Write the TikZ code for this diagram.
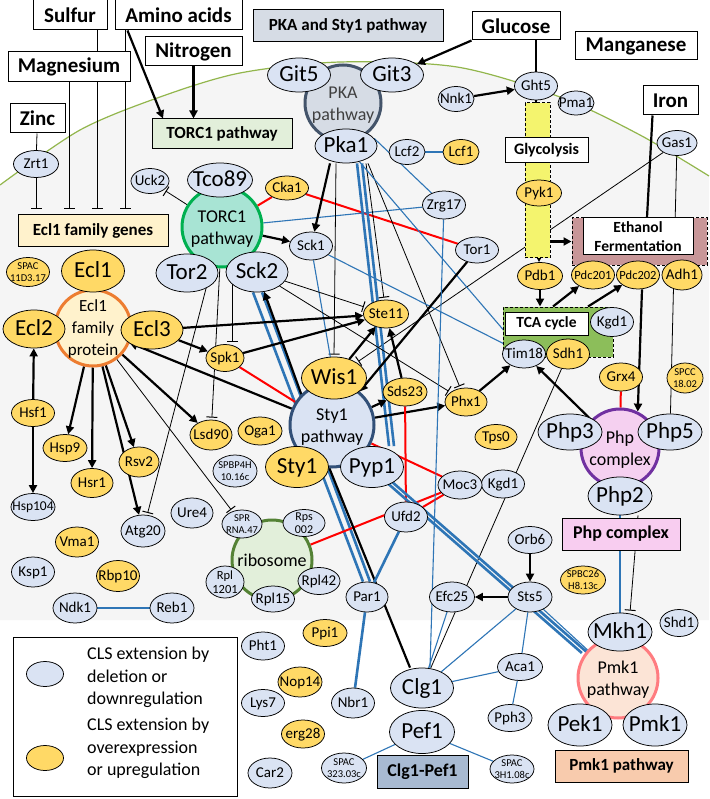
\documentclass[tikz,border=0pt]{standalone}
\usepackage{fontspec}
\setmainfont{Carlito}
\usetikzlibrary{shapes.geometric,arrows.meta,calc}
\pgfdeclarelayer{bgl}\pgfdeclarelayer{edl}
\pgfsetlayers{bgl,edl,main}
\definecolor{nblue}{RGB}{218,227,243}
\definecolor{nyel}{RGB}{255,217,102}
\definecolor{lblue}{RGB}{46,117,182}
\definecolor{lred}{RGB}{255,0,0}
\definecolor{cellbg}{RGB}{245,245,245}
\definecolor{memb}{RGB}{146,182,76}
\definecolor{pkafill}{RGB}{214,220,229}
\definecolor{pkab}{RGB}{68,84,106}
\definecolor{torcfill}{RGB}{168,228,212}
\definecolor{torcb}{RGB}{0,176,80}
\definecolor{torcbox}{RGB}{226,239,218}
\definecolor{eclfill}{RGB}{255,242,204}
\definecolor{eclb}{RGB}{237,125,49}
\definecolor{spb}{RGB}{50,80,120}
\definecolor{ribofill}{RGB}{226,239,218}
\definecolor{ribob}{RGB}{84,130,53}
\definecolor{phpfill}{RGB}{245,208,240}
\definecolor{phpb}{RGB}{112,48,160}
\definecolor{phpbox}{RGB}{248,205,240}
\definecolor{pmkfill}{RGB}{252,228,214}
\definecolor{pmkb}{RGB}{255,124,128}
\definecolor{pmkbox}{RGB}{248,203,173}
\definecolor{clgbox}{RGB}{168,186,210}
\definecolor{glyc}{RGB}{244,244,110}
\definecolor{ethfill}{RGB}{200,150,152}
\definecolor{tcafill}{RGB}{140,190,90}
\newcommand\fbig{\fontsize{23}{26}\selectfont}
\newcommand\fsm{\fontsize{15}{17}\selectfont}
\newcommand\fpdc{\fontsize{12.5}{14}\selectfont}
\newcommand\ftn{\fontsize{10.5}{12.5}\selectfont}
\newcommand\fbx{\bfseries\fontsize{21}{24}\selectfont}
\newcommand\flb{\bfseries\fontsize{17}{20}\selectfont}
\newcommand\fcir{\fontsize{18}{22}\selectfont}
\newcommand\fleg{\fontsize{18}{22.5}\selectfont}
\newcommand\NT[1]{\makebox[0pt]{\raisebox{-0.34em}[0pt][0pt]{\begin{tabular}{@{}c@{}}#1\end{tabular}}}}
\tikzset{
 nb/.style 2 args={ellipse, draw=black, line width=0.75pt, fill=nblue, inner sep=0pt, minimum width=#1pt, minimum height=#2pt, font=\fsm},
 ny/.style 2 args={ellipse, draw=black, line width=0.75pt, fill=nyel, inner sep=0pt, minimum width=#1pt, minimum height=#2pt, font=\fsm},
 bx/.style 2 args={rectangle, draw=black, line width=1pt, fill=white, inner sep=0pt, minimum width=#1pt, minimum height=#2pt, font=\fbx},
 lb/.style 2 args={rectangle, draw=black, line width=1pt, inner sep=0pt, minimum width=#1pt, minimum height=#2pt, font=\flb},
 pc/.style n args={3}{circle, draw=#2, fill=#3, line width=3pt, inner sep=0pt, minimum size=#1pt, font=\fcir},
 dsh/.style={draw=black, line width=1pt, dash pattern=on 3pt off 2pt, inner sep=0pt},
 act/.style={line width=2.2pt, -{Triangle[length=8pt,width=8pt]}},
 inh/.style={line width=0.8pt, -{Bar[width=11pt,line width=1pt]}, shorten >=2pt},
 thn/.style={line width=0.8pt},
 thk/.style={line width=2.2pt},
 bl/.style={line width=1.1pt, draw=lblue},
 blt/.style={line width=2.6pt, draw=lblue},
 rd/.style={line width=2pt, draw=lred},
}
\begin{document}
\begin{tikzpicture}[x=1pt,y=-1pt]
\useasboundingbox (0,0) rectangle (709,799);
\begin{pgfonlayer}{bgl}
\fill[white] (0,0) rectangle (709,799);
\fill[cellbg] plot[smooth] coordinates {(0,185) (80,130) (160,97) (240,73) (340,62) (457,67) (560,97) (640,135) (709,176)} -- (709,620) -- (0,620) -- cycle;
\draw[memb, line width=1.2pt] plot[smooth] coordinates {(0,185) (80,130) (160,97) (240,73) (340,62) (457,67) (560,97) (640,135) (709,176)};
\end{pgfonlayer}

% ---- pathway circles
\node[pc={76}{pkab}{pkafill}, text=black!75] (PKA) at (343,103) {\NT{PKA\\pathway}};
\node[pc={80}{torcb}{torcfill}] (TORC1) at (222,227) {\NT{TORC1\\pathway}};
\node[pc={76}{eclb}{eclfill}, font=\fontsize{17}{22}\selectfont] (EFP) at (93,328) {\NT{Ecl1\\family\\protein}};
\node[pc={84}{spb}{nblue}] (SP) at (332,425) {\NT{Sty1\\pathway}};
\node[pc={80}{ribob}{ribofill}] (Ribo) at (272,560) {\NT{ribosome}};
\node[pc={78}{phpb}{phpfill}] (Phpc) at (620,448) {\NT{Php\\complex}};
\node[pc={80}{pmkb}{pmkfill}] (Pmkc) at (618,678) {\NT{Pmk1\\pathway}};

% ---- glycolysis band, ethanol, TCA
\node[dsh, fill=glyc, minimum width=25pt, minimum height=155pt] (band) at (537.5,180.5) {};
\node[dsh, fill=ethfill, minimum width=135pt, minimum height=47pt] (Eth) at (639.5,241.5) {};
\node[rectangle, draw=black, line width=1pt, fill=white, inner sep=0pt, minimum width=110pt, minimum height=37pt, align=center, font=\bfseries\fontsize{15.5}{19}\selectfont] (EthT) at (638,236.5) {Ethanol\\Fermentation};
\node[dsh, fill=tcafill, minimum width=110pt, minimum height=50pt] (TCA) at (558,332) {};
\node[rectangle, draw=black, line width=1pt, fill=white, inner sep=0pt, minimum width=83pt, minimum height=23pt, font=\bfseries\fontsize{15.5}{18}\selectfont] (TCAT) at (546.5,323.5) {TCA cycle};
\node[rectangle, draw=black, line width=1pt, fill=white, inner sep=0pt, minimum width=83pt, minimum height=25pt, font=\bfseries\fontsize{16}{18}\selectfont] (Glyc) at (546.5,150.5) {Glycolysis};

% ---- boxes
\node[bx={74}{30}] (Sulfur) at (70,15) {Sulfur};
\node[bx={127}{30}] (Amino) at (178.5,15) {Amino acids};
\node[bx={122}{30}] (Mg) at (69,67) {Magnesium};
\node[bx={97}{29}] (Nitro) at (193.5,51.5) {Nitrogen};
\node[bx={55}{29}] (Zinc) at (37.5,118.5) {Zinc};
\node[bx={88}{28}] (Glucose) at (516,26) {Glucose};
\node[bx={122}{28}] (Mn) at (636,46) {Manganese};
\node[bx={55}{29}] (Iron) at (670.5,100.5) {Iron};
\node[lb={190}{32}, fill=pkafill] (PKAbox) at (348,26) {PKA and Sty1 pathway};
\node[lb={140}{30}, fill=torcbox] (TORbox) at (222,134) {TORC1 pathway};
\node[lb={150}{32}, fill=eclfill] (Eclg) at (93,231) {Ecl1 family genes};
\node[lb={118}{32}, fill=phpbox, font=\bfseries\fontsize{18}{20}\selectfont] (Phpbox) at (621,534) {Php complex};
\node[lb={133}{32}, fill=pmkbox] (Pmkbox) at (621.5,766) {Pmk1 pathway};
\node[lb={91}{33}, fill=clgbox, font=\bfseries\fontsize{18}{20}\selectfont] (Clgbox) at (422.5,771.5) {Clg1-Pef1};

% ---- blue nodes
\node[nb={45}{27}] (Zrt1) at (36,164) {\NT{Zrt1}};
\node[nb={38}{25}] (Uck2) at (150,181) {\NT{Uck2}};
\node[nb={36}{25}] (Nnk1) at (456,99) {\NT{Nnk1}};
\node[nb={43}{28}] (Ght5) at (536,86) {\NT{Ght5}};
\node[nb={36}{24}] (Pma1) at (576,103) {\NT{Pma1}};
\node[nb={36}{25}] (Lcf2) at (407,152) {\NT{Lcf2}};
\node[nb={43}{28}] (Zrg17) at (444,205) {\NT{Zrg17}};
\node[nb={43}{28}] (Sck1) at (311,246) {\NT{Sck1}};
\node[nb={43}{26}] (Tor1) at (477,250) {\NT{Tor1}};
\node[nb={40}{25}] (Gas1) at (677,143) {\NT{Gas1}};
\node[nb={43}{29}] (KgdA) at (612,322) {\NT{Kgd1}};
\node[nb={43}{28}] (Tim18) at (524,354) {\NT{Tim18}};
\node[nb={43}{28}] (KgdB) at (503,484) {\NT{Kgd1}};
\node[nb={44}{28}] (Moc3) at (460,485) {\NT{Moc3}};
\node[nb={43}{30}] (Ufd2) at (406,517) {\NT{Ufd2}};
\node[nb={42}{30}] (Ure4) at (192,513) {\NT{Ure4}};
\node[nb={44}{32}] (Atg20) at (143,531) {\NT{Atg20}};
\node[nb={44}{27}, font=\fontsize{13.5}{15}\selectfont] (Hsp104) at (33,507) {\NT{Hsp104}};
\node[nb={43}{30}] (Ksp1) at (33,572) {\NT{Ksp1}};
\node[nb={44}{30}] (Ndk1) at (75,608) {\NT{Ndk1}};
\node[nb={44}{30}] (Reb1) at (172,608) {\NT{Reb1}};
\node[nb={42}{27}] (Rpl42) at (319,581) {\NT{Rpl42}};
\node[nb={43}{26}] (Rpl15) at (273,599) {\NT{Rpl15}};
\node[nb={42}{30}] (Par1) at (367,597) {\NT{Par1}};
\node[nb={45}{30}] (Efc25) at (452,597) {\NT{Efc25}};
\node[nb={44}{27}] (Orb6) at (530,540) {\NT{Orb6}};
\node[nb={44}{30}] (Sts5) at (530,597) {\NT{Sts5}};
\node[nb={45}{27}] (Aca1) at (520,667) {\NT{Aca1}};
\node[nb={44}{27}] (Pph3) at (510,718) {\NT{Pph3}};
\node[nb={38}{27}] (Shd1) at (679,623) {\NT{Shd1}};
\node[nb={43}{28}] (Pht1) at (263,646) {\NT{Pht1}};
\node[nb={43}{27}] (Lys7) at (263,703) {\NT{Lys7}};
\node[nb={43}{30}] (Nbr1) at (353,703) {\NT{Nbr1}};
\node[nb={44}{30}] (Car2) at (270,773) {\NT{Car2}};
\node[nb={63}{34}, font=\fbig] (Git5) at (299,75) {\NT{Git5}};
\node[nb={63}{34}, font=\fbig] (Git3) at (392,75) {\NT{Git3}};
\node[nb={62}{34}, font=\fbig] (Pka1) at (346,146) {\NT{Pka1}};
\node[nb={65}{34}, font=\fbig] (Tco89) at (220,180) {\NT{Tco89}};
\node[nb={62}{38}, font=\fbig] (Tor2) at (187,273) {\NT{Tor2}};
\node[nb={62}{40}, font=\fbig] (Sck2) at (257,272) {\NT{Sck2}};
\node[nb={63}{41}, font=\fbig] (Pyp1) at (372,467) {\NT{Pyp1}};
\node[nb={64}{36}, font=\fbig] (Php3) at (570,432) {\NT{Php3}};
\node[nb={64}{36}, font=\fbig] (Php5) at (670,432) {\NT{Php5}};
\node[nb={64}{38}, font=\fbig] (Php2) at (620,496) {\NT{Php2}};
\node[nb={64}{38}, font=\fbig] (Mkh1) at (620,632) {\NT{Mkh1}};
\node[nb={64}{42}, font=\fbig] (Pek1) at (580,725) {\NT{Pek1}};
\node[nb={64}{42}, font=\fbig] (Pmk1) at (655,725) {\NT{Pmk1}};
\node[nb={63}{40}, font=\fbig] (Clg1) at (422,688) {\NT{Clg1}};
\node[nb={65}{43}, font=\fbig] (Pef1) at (422,732) {\NT{Pef1}};
\node[nb={44}{32}, font=\ftn] (SPBP) at (235,471) {\NT{SPBP4H\\10.16c}};
\node[nb={40}{28}, font=\ftn] (SPR) at (242,524) {\NT{SPR\\RNA.47}};
\node[nb={42}{27}, font=\fontsize{12}{13}\selectfont] (Rps) at (304,523) {\NT{Rps\\002}};
\node[nb={38}{32}, font=\fontsize{12.5}{14}\selectfont] (Rpl1201) at (225,582) {\NT{Rpl\\1201}};
\node[nb={45}{30}, font=\ftn] (SPACa) at (344,768) {\NT{SPAC\\323.03c}};
\node[nb={44}{28}, font=\ftn] (SPACb) at (512,769) {\NT{SPAC\\3H1.08c}};

% ---- yellow nodes
\node[ny={43}{24}] (Cka1) at (287,188) {\NT{Cka1}};
\node[ny={36}{25}] (Lcf1) at (461,152) {\NT{Lcf1}};
\node[ny={45}{26}] (Pyk1) at (539,193) {\NT{Pyk1}};
\node[ny={45}{27}] (Pdb1) at (540,276) {\NT{Pdb1}};
\node[ny={43}{28}, font=\fpdc] (Pdc201) at (593,275) {\NT{Pdc201}};
\node[ny={43}{28}, font=\fpdc] (Pdc202) at (638,275) {\NT{Pdc202}};
\node[ny={40}{30}] (Adh1) at (682,275) {\NT{Adh1}};
\node[ny={43}{30}] (Sdh1) at (568,354) {\NT{Sdh1}};
\node[ny={43}{28}] (Grx4) at (621,377) {\NT{Grx4}};
\node[ny={45}{28}] (Ste11) at (386,314) {\NT{Ste11}};
\node[ny={38}{27}] (Spk1) at (225,358) {\NT{Spk1}};
\node[ny={44}{28}] (Sds23) at (405,392) {\NT{Sds23}};
\node[ny={42}{28}] (Phx1) at (466,402) {\NT{Phx1}};
\node[ny={44}{28}] (Oga1) at (260,431) {\NT{Oga1}};
\node[ny={42}{30}] (Lsd90) at (211,435) {\NT{Lsd90}};
\node[ny={43}{27}] (Hsf1) at (33,413) {\NT{Hsf1}};
\node[ny={44}{27}] (Hsp9) at (65,448) {\NT{Hsp9}};
\node[ny={42}{29}] (Hsr1) at (92,483) {\NT{Hsr1}};
\node[ny={40}{30}] (Rsv2) at (139,462) {\NT{Rsv2}};
\node[ny={42}{25}] (Tps0) at (496,437) {\NT{Tps0}};
\node[ny={43}{30}] (Vma1) at (77,542) {\NT{Vma1}};
\node[ny={43}{31}] (Rbp10) at (118,576) {\NT{Rbp10}};
\node[ny={44}{27}] (Ppi1) at (325,633) {\NT{Ppi1}};
\node[ny={44}{30}] (Nop14) at (300,682) {\NT{Nop14}};
\node[ny={43}{28}] (erg28) at (303,734) {\NT{erg28}};
\node[ny={63}{42}, font=\fbig] (Ecl1) at (93,271) {\NT{Ecl1}};
\node[ny={62}{38}, font=\fbig] (Ecl2) at (34,329) {\NT{Ecl2}};
\node[ny={62}{38}, font=\fbig] (Ecl3) at (152,330) {\NT{Ecl3}};
\node[ny={65}{42}, font=\fbig] (Wis1) at (334,378) {\NT{Wis1}};
\node[ny={63}{41}, font=\fbig] (Sty1) at (297,467) {\NT{Sty1}};
\node[ny={43}{29}, font=\ftn] (SPAC11) at (28,272) {\NT{SPAC\\11D3.17}};
\node[ny={36}{30}, font=\ftn] (SPCC) at (685,378) {\NT{SPCC\\18.02}};
\node[ny={45}{28}, font=\ftn] (SPBC) at (583,580) {\NT{SPBC26\\H8.13c}};

% ---- legend
\node[draw=black, line width=1pt, minimum width=224pt, minimum height=159pt, inner sep=0pt] (Leg) at (125,716.5) {};
\node[nb={37}{25}] (LegB) at (45,674) {};
\node[ny={37}{25}] (LegY) at (45,758) {};
\node[anchor=west, align=left, inner sep=0pt, font=\fleg] (LegBT) at (87,677.5) {CLS extension by\\deletion or\\downregulation};
\node[anchor=west, align=left, inner sep=0pt, font=\fleg] (LegYT) at (87,748.5) {CLS extension by\\overexpression\\or upregulation};

% ---- edges
\begin{pgfonlayer}{edl}
\draw[thn] (Zinc) -- (Zrt1);
\draw[inh, shorten >=5pt] (Zrt1) -- (Zrt1 |- Eclg.north);
\draw[inh, shorten >=5pt] (Mg.south) -- (Mg.south |- Eclg.north);
\draw[inh, shorten >=5pt] ([xshift=27pt]Sulfur.south) -- ([xshift=27pt]Sulfur.south |- Eclg.north);
\draw[inh, shorten >=5pt] ([xshift=-53.5pt]Amino.south) -- ([xshift=-53.5pt]Amino.south |- Eclg.north);
\draw[act] ([xshift=-51pt]Amino.south) -- ([xshift=-59pt]TORbox.north);
\draw[act] (Nitro.south) -- (Nitro.south |- TORbox.north);
% glucose / metabolism
\draw[act] (Glucose.south west) -- (Git3);
\draw[thk] (Ght5 |- Glucose.south) -- (Ght5);
\draw[act] (Nnk1) -- (Ght5);
\draw[act] (Ght5.south) -- (Ght5.south |- Glyc.north);
\draw[act] (Pyk1 |- Glyc.south) -- (Pyk1.north);
\draw[act] (Pyk1.south) -- (Pyk1.south |- Pdb1.north);
\draw[act] (band.east |- Eth.west) -- (Eth.west);
\draw[act] (Pdb1.south) -- (Pdb1.south |- TCA.north);
\draw[act] ([xshift=-5pt]TCA.north) -- (Pdc201);
\draw[act] ([xshift=30pt]TCA.north) -- (Pdc202);
\draw[thk] ([xshift=-18pt]Iron.south) -- ([xshift=7.5pt]Eth.north);
\draw[inh] (Gas1) -- (Wis1);
\draw[thn] (Gas1) -- (Php5);
\draw[act] ([xshift=4pt]Pdc202.south) -- (Phpc.64);
\draw[rd] (Grx4) -- (Phpc);
\draw[act] (Phpc) -- (Tim18);
\draw[act] (Phx1) -- (Tim18);
\draw[thn] (Sdh1) -- (Clg1);
% TORC1
\draw[inh] (TORC1) -- (Uck2);
\draw[rd] (Cka1) -- (TORC1);
\draw[rd] (Cka1) -- (Tor1);
\draw[bl] (TORC1) -- (Zrg17);
\draw[act] (TORC1) -- (Sck1);
\draw[inh] (TORC1) -- (Lsd90);
\draw[inh] (TORC1) -- (Atg20);
\draw[inh] ([xshift=10pt]TORC1.center) -- ([xshift=7pt]Spk1.north);
% Pka1
\draw[act] ([xshift=-16pt]Pka1.south) -- (Sck1);
\draw[inh] ([xshift=-10pt]Pka1.south) -- (Wis1.north);
\draw[inh] ([xshift=20pt]Pka1.south) -- (Ste11);
\draw[inh] ([xshift=22pt]Pka1.south) -- (Phx1);
\draw[bl] (Pka1.15) -- (Zrg17);
\draw[bl] (Pka1) -- (Tim18);
\draw[blt] ([xshift=11pt]Pka1.south) -- ([xshift=17pt]Pyp1.north);
\draw[blt] ([xshift=16pt]Pka1.south) -- ([xshift=22pt]Pyp1.north);
\draw[bl] (Lcf2) -- (Lcf1);
% Sck
\draw[bl] (Sck1) -- (Wis1);
\draw[bl] (Sck1) -- (Tim18);
\draw[inh] (Sck2) -- (Ste11);
\draw[inh] (Sck2) -- (Phx1);
\draw[blt] ([xshift=-4pt]Sck2.south) -- ([xshift=-4pt]Par1.north);
\draw[blt] ([xshift=5pt]Sck2.south) -- ([xshift=3pt]Par1.north);
\draw[act] (SP.135) -- (Sck2);
% Ecl
\draw[act] (Hsf1) -- (Ecl2);
\draw[act] (Hsf1) -- (Hsp104);
\draw[act] (EFP) -- (Hsp9);
\draw[act] (EFP) -- (Hsr1);
\draw[act] (EFP) -- (Atg20);
\draw[act] (EFP) -- (Rsv2);
\draw[act] (EFP) -- (Lsd90);
\draw[inh] (EFP) -- (SPR);
\draw[act] (Ecl3) -- (Ste11);
\draw[act] (Ecl3) -- (Spk1);
\draw[act] (Spk1) -- (Ste11);
\draw[rd] (Spk1) -- (SP);
\draw[act] (SP) -- (EFP);
% Sty1
\draw[act] (Wis1) -- (Ste11);
\draw[act] (Sds23) -- (Ste11);
\draw[act] (Tor1) -- (SP);
\draw[act] (SP) -- (Sds23);
\draw[act] (SP) -- (Phx1);
\draw[rd] (SP) -- (Moc3);
\draw[rd] (Ribo) -- (Moc3);
\draw[rd] (Ufd2) -- (Moc3);
\draw[rd] (Sds23) -- (Ufd2);
\draw[thk] (Sty1.east) -- ([xshift=-12pt]Clg1.north);
\draw[blt] (Ufd2) -- (Par1);
\draw[blt] (Par1) -- (Nbr1);
\draw[bl] (Zrg17) -- ([xshift=8pt]Clg1.north);
\draw[bl] (Efc25) -- (Clg1);
\draw[bl] (Sts5) -- (Clg1);
\draw[bl] (Aca1) -- (Clg1);
\draw[act] (Orb6) -- (Sts5);
\draw[act] (Sts5) -- (Efc25);
\draw[bl] (Sts5) -- (Aca1);
\draw[bl] (Aca1) -- (Pph3);
\draw[bl] (Sts5) -- (Pmkc);
\draw[blt] ([xshift=-3pt]Pyp1.center) -- ([xshift=-3pt]Pmkc.143);
\draw[blt] ([xshift=3pt]Pyp1.center) -- ([xshift=3pt]Pmkc.143);
\draw[bl] (Pef1) -- (SPACa);
\draw[bl] (Pef1) -- (SPACb);
\draw[bl] (Php2) -- (Mkh1);
\draw[inh] ([xshift=18pt]Php2.south) -- ([xshift=10pt]Mkh1.north);
\draw[bl] (Ndk1) -- (Reb1);
\end{pgfonlayer}
\end{tikzpicture}
\end{document}
